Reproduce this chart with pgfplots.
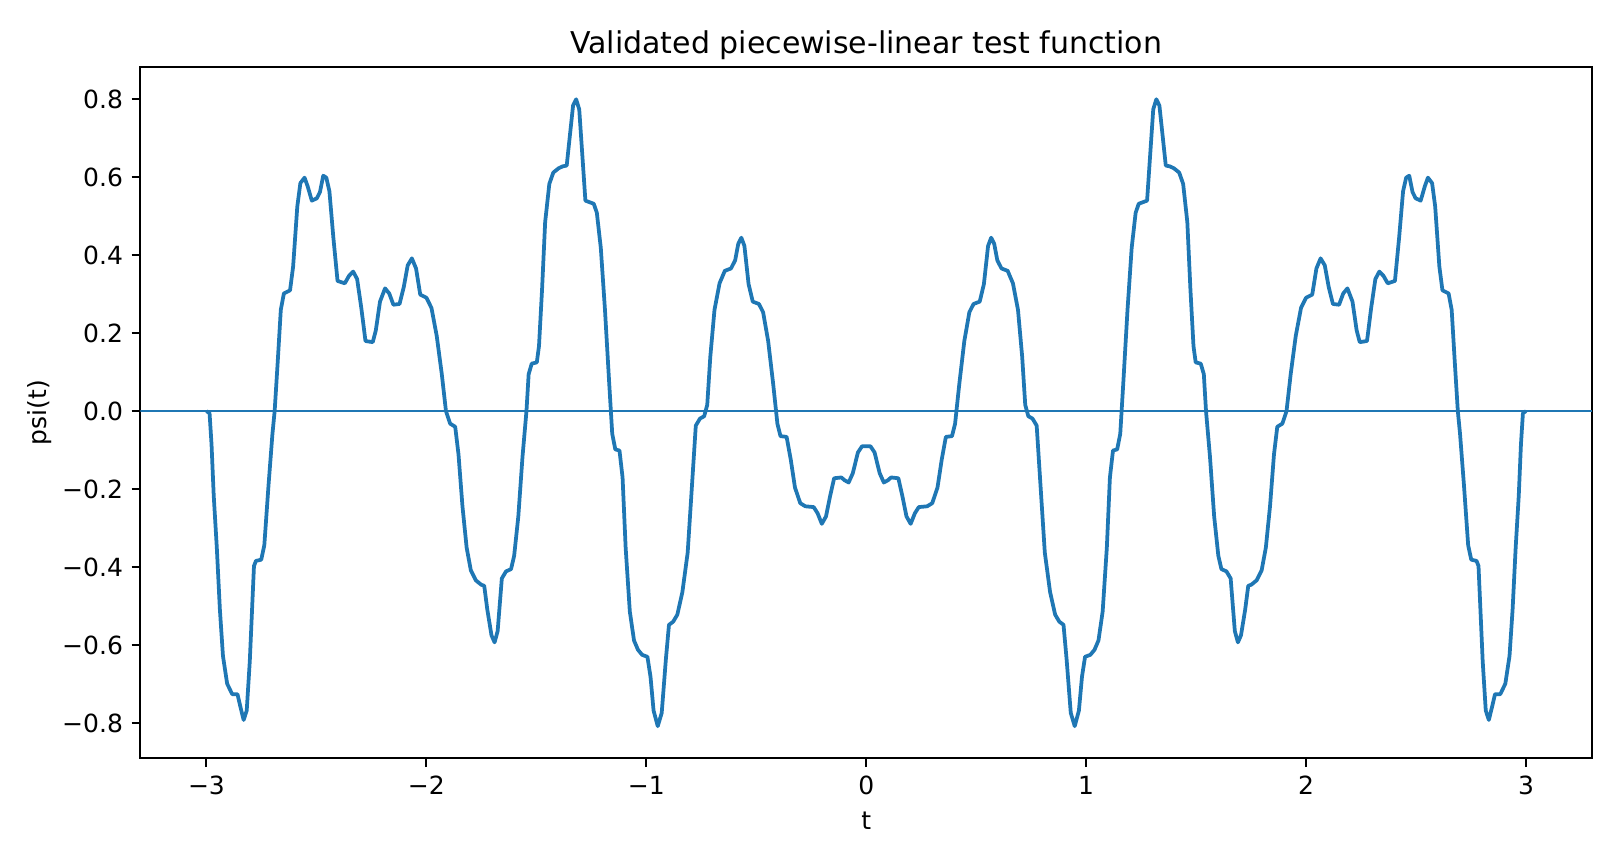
\documentclass[border=0pt]{standalone}
\usepackage{fontspec}
\setmainfont{DejaVu Sans}
\usepackage{pgfplots}
\pgfplotsset{compat=1.18}
\definecolor{tabblue}{HTML}{1F77B4}

\begin{document}
\begin{tikzpicture}
% whole figure: 1620x864 px at 0.4pt per px
\useasboundingbox (-56.2pt,-42.3pt) rectangle (591.8pt,303.34pt);
\begin{axis}[
    at={(0,0)}, anchor=south west,
    scale only axis,
    width=580.6pt, height=276.5pt,
    xmin=-3.3, xmax=3.3,
    ymin=-0.8905, ymax=0.8825,
    axis line style={line width=0.8pt},
    tick align=outside,
    major tick length=3.5pt,
    every tick/.style={black, line width=0.8pt},
    xtick pos=bottom, ytick pos=left,
    xtick={-3,-2,-1,0,1,2,3},
    xticklabels={−3,−2,−1,0,1,2,3},
    ytick={-0.8,-0.6,-0.4,-0.2,0,0.2,0.4,0.6,0.8},
    yticklabels={−0.8,−0.6,−0.4,−0.2,0.0,0.2,0.4,0.6,0.8},
    tick label style={font=\fontsize{10}{12}\selectfont},
    title={Validated piecewise-linear test function},
    title style={font=\fontsize{12}{14}\selectfont,
        at={(axis description cs:0.5,1)}, anchor=base, yshift=-0.4pt},
    xlabel={t},
    xlabel style={at={(axis description cs:0.5,0)}, anchor=base, yshift=-28.5pt},
    ylabel={psi(t)},
    ylabel style={at={(axis description cs:-0.0646,0.5)}, anchor=base, rotate=0},
    label style={font=\fontsize{10}{12}\selectfont},
    clip=true,
]
\addplot[tabblue, line width=1pt, forget plot] coordinates {(-3.3,0)(3.3,0)};
\addplot[tabblue, line width=1.5pt, line join=round] coordinates {
(-3.000,0)(-2.986,-0.005)(-2.977,-0.085)(-2.967,-0.217)(-2.953,-0.350)(-2.939,-0.509)
(-2.925,-0.628)(-2.906,-0.699)(-2.883,-0.726)(-2.859,-0.726)(-2.845,-0.760)(-2.831,-0.792)
(-2.817,-0.768)(-2.803,-0.641)(-2.784,-0.397)(-2.775,-0.384)(-2.751,-0.381)(-2.737,-0.344)
(-2.718,-0.191)(-2.700,-0.058)(-2.690,0)(-2.676,0.127)(-2.662,0.260)(-2.648,0.302)
(-2.620,0.310)(-2.606,0.371)(-2.587,0.525)(-2.573,0.585)(-2.554,0.599)(-2.540,0.577)
(-2.521,0.540)(-2.498,0.546)(-2.484,0.562)(-2.469,0.604)(-2.455,0.599)(-2.441,0.564)
(-2.423,0.445)(-2.404,0.334)(-2.371,0.328)(-2.352,0.347)(-2.333,0.358)(-2.315,0.339)
(-2.296,0.265)(-2.277,0.180)(-2.244,0.177)(-2.230,0.207)(-2.211,0.281)(-2.188,0.315)
(-2.169,0.302)(-2.150,0.273)(-2.122,0.275)(-2.103,0.318)(-2.085,0.374)(-2.066,0.392)
(-2.047,0.366)(-2.028,0.299)(-2.000,0.291)(-1.977,0.265)(-1.953,0.193)(-1.930,0.095)
(-1.911,0)(-1.892,-0.032)(-1.869,-0.040)(-1.854,-0.111)(-1.836,-0.244)(-1.817,-0.350)
(-1.798,-0.408)(-1.775,-0.434)(-1.751,-0.445)(-1.737,-0.448)(-1.723,-0.509)(-1.704,-0.575)
(-1.690,-0.593)(-1.676,-0.564)(-1.657,-0.429)(-1.638,-0.411)(-1.615,-0.405)(-1.601,-0.371)
(-1.582,-0.270)(-1.563,-0.117)(-1.545,0)(-1.535,0.095)(-1.521,0.122)(-1.498,0.125)
(-1.488,0.167)(-1.474,0.313)(-1.460,0.485)(-1.441,0.583)(-1.423,0.612)(-1.399,0.623)
(-1.380,0.628)(-1.362,0.630)(-1.347,0.710)(-1.333,0.784)(-1.319,0.800)(-1.305,0.774)
(-1.291,0.657)(-1.277,0.540)(-1.239,0.532)(-1.225,0.509)(-1.207,0.419)(-1.188,0.260)
(-1.169,0.074)(-1.155,-0.058)(-1.141,-0.098)(-1.122,-0.101)(-1.108,-0.170)(-1.094,-0.350)
(-1.075,-0.514)(-1.056,-0.588)(-1.038,-0.612)(-1.019,-0.625)(-0.995,-0.630)(-0.981,-0.681)
(-0.967,-0.768)(-0.948,-0.808)(-0.930,-0.774)(-0.911,-0.636)(-0.897,-0.548)(-0.878,-0.540)
(-0.859,-0.522)(-0.836,-0.464)(-0.812,-0.363)(-0.793,-0.196)(-0.775,-0.037)(-0.756,-0.019)
(-0.737,-0.013)(-0.723,0.016)(-0.709,0.140)(-0.690,0.260)(-0.667,0.328)(-0.643,0.360)
(-0.615,0.366)(-0.596,0.387)(-0.582,0.429)(-0.568,0.445)(-0.554,0.424)(-0.535,0.326)
(-0.516,0.281)(-0.488,0.275)(-0.469,0.254)(-0.446,0.180)(-0.423,0.069)(-0.404,-0.032)
(-0.390,-0.064)(-0.362,-0.066)(-0.343,-0.125)(-0.324,-0.196)(-0.300,-0.236)(-0.277,-0.244)
(-0.239,-0.246)(-0.221,-0.262)(-0.202,-0.289)(-0.183,-0.270)(-0.164,-0.217)(-0.146,-0.172)
(-0.113,-0.170)(-0.099,-0.177)(-0.080,-0.183)(-0.061,-0.159)(-0.038,-0.106)(-0.019,-0.090)
(0.000,-0.090)
(0.019,-0.090)(0.038,-0.106)(0.061,-0.159)(0.080,-0.183)(0.099,-0.177)(0.113,-0.170)
(0.146,-0.172)(0.164,-0.217)(0.183,-0.270)(0.202,-0.289)(0.221,-0.262)(0.239,-0.246)
(0.277,-0.244)(0.300,-0.236)(0.324,-0.196)(0.343,-0.125)(0.362,-0.066)(0.390,-0.064)
(0.404,-0.032)(0.423,0.069)(0.446,0.180)(0.469,0.254)(0.488,0.275)(0.516,0.281)
(0.535,0.326)(0.554,0.424)(0.568,0.445)(0.582,0.429)(0.596,0.387)(0.615,0.366)
(0.643,0.360)(0.667,0.328)(0.690,0.260)(0.709,0.140)(0.723,0.016)(0.737,-0.013)
(0.756,-0.019)(0.775,-0.037)(0.793,-0.196)(0.812,-0.363)(0.836,-0.464)(0.859,-0.522)
(0.878,-0.540)(0.897,-0.548)(0.911,-0.636)(0.930,-0.774)(0.948,-0.808)(0.967,-0.768)
(0.981,-0.681)(0.995,-0.630)(1.019,-0.625)(1.038,-0.612)(1.056,-0.588)(1.075,-0.514)
(1.094,-0.350)(1.108,-0.170)(1.122,-0.101)(1.141,-0.098)(1.155,-0.058)(1.169,0.074)
(1.188,0.260)(1.207,0.419)(1.225,0.509)(1.239,0.532)(1.277,0.540)(1.291,0.657)
(1.305,0.774)(1.319,0.800)(1.333,0.784)(1.347,0.710)(1.362,0.630)(1.380,0.628)
(1.399,0.623)(1.423,0.612)(1.441,0.583)(1.460,0.485)(1.474,0.313)(1.488,0.167)
(1.498,0.125)(1.521,0.122)(1.535,0.095)(1.545,0)(1.563,-0.117)(1.582,-0.270)
(1.601,-0.371)(1.615,-0.405)(1.638,-0.411)(1.657,-0.429)(1.676,-0.564)(1.690,-0.593)
(1.704,-0.575)(1.723,-0.509)(1.737,-0.448)(1.751,-0.445)(1.775,-0.434)(1.798,-0.408)
(1.817,-0.350)(1.836,-0.244)(1.854,-0.111)(1.869,-0.040)(1.892,-0.032)(1.911,0)
(1.930,0.095)(1.953,0.193)(1.977,0.265)(2.000,0.291)(2.028,0.299)(2.047,0.366)
(2.066,0.392)(2.085,0.374)(2.103,0.318)(2.122,0.275)(2.150,0.273)(2.169,0.302)
(2.188,0.315)(2.211,0.281)(2.230,0.207)(2.244,0.177)(2.277,0.180)(2.296,0.265)
(2.315,0.339)(2.333,0.358)(2.352,0.347)(2.371,0.328)(2.404,0.334)(2.423,0.445)
(2.441,0.564)(2.455,0.599)(2.469,0.604)(2.484,0.562)(2.498,0.546)(2.521,0.540)
(2.540,0.577)(2.554,0.599)(2.573,0.585)(2.587,0.525)(2.606,0.371)(2.620,0.310)
(2.648,0.302)(2.662,0.260)(2.676,0.127)(2.690,0)(2.700,-0.058)(2.718,-0.191)
(2.737,-0.344)(2.751,-0.381)(2.775,-0.384)(2.784,-0.397)(2.803,-0.641)(2.817,-0.768)
(2.831,-0.792)(2.845,-0.760)(2.859,-0.726)(2.883,-0.726)(2.906,-0.699)(2.925,-0.628)
(2.939,-0.509)(2.953,-0.350)(2.967,-0.217)(2.977,-0.085)(2.986,-0.005)(3.000,0)
};
\end{axis}
\end{tikzpicture}
\end{document}
